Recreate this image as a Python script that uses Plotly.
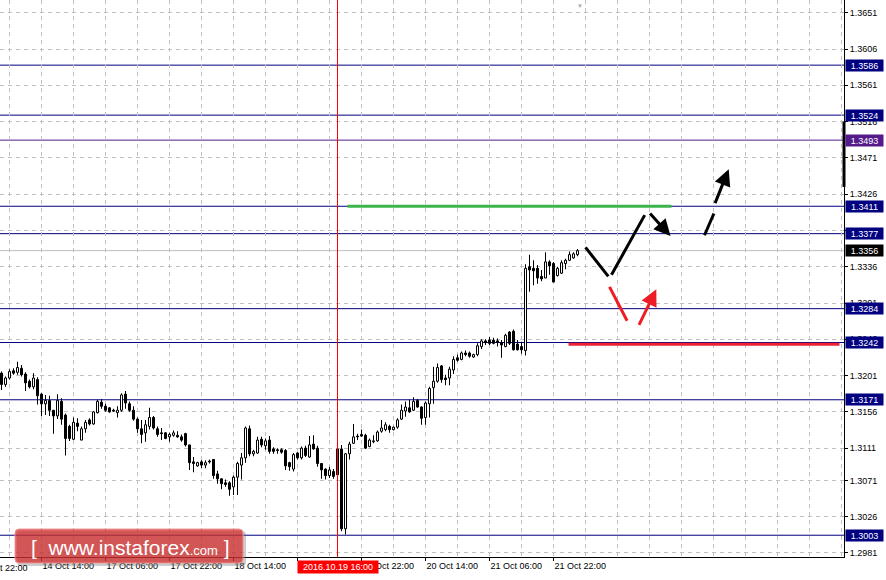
import plotly.graph_objects as go

# ---------------- data (H1 candles, bar index 0 = 14 Oct 14:00) ----------------
bar_start = -10
opens = [1.3204, 1.3190, 1.3198, 1.3207, 1.3205, 1.3210, 1.3203, 1.3194, 1.3187, 1.3196,
         1.3178, 1.3166, 1.3170, 1.3158, 1.3151, 1.3169, 1.3152, 1.3138, 1.3122, 1.3142,
         1.3121, 1.3135, 1.3146, 1.3141, 1.3155, 1.3168, 1.3163, 1.3161, 1.3158, 1.3155,
         1.3158, 1.3178, 1.3166, 1.3158, 1.3147, 1.3135, 1.3130, 1.3138, 1.3149, 1.3135,
         1.3130, 1.3130, 1.3125, 1.3127, 1.3127, 1.3125, 1.3129, 1.3115, 1.3094, 1.3089,
         1.3094, 1.3090, 1.3095, 1.3097, 1.3079, 1.3073, 1.3068, 1.3068, 1.3063, 1.3075,
         1.3090, 1.3099, 1.3135, 1.3104, 1.3105, 1.3122, 1.3114, 1.3121, 1.3110, 1.3109,
         1.3109, 1.3108, 1.3093, 1.3085, 1.3105, 1.3099, 1.3111, 1.3100, 1.3116, 1.3111,
         1.3092, 1.3085, 1.3077, 1.3082, 1.3110, 1.3110, 1.3011, 1.3104, 1.3117, 1.3126,
         1.3128, 1.3127, 1.3113, 1.3119, 1.3120, 1.3132, 1.3134, 1.3138, 1.3134, 1.3137,
         1.3147, 1.3157, 1.3161, 1.3158, 1.3170, 1.3162, 1.3149, 1.3166, 1.3186, 1.3194,
         1.3213, 1.3198, 1.3198, 1.3208, 1.3223, 1.3221, 1.3229, 1.3229, 1.3224, 1.3227,
         1.3237, 1.3244, 1.3245, 1.3245, 1.3244, 1.3242, 1.3237, 1.3255, 1.3256, 1.3240,
         1.3237, 1.3232, 1.3336, 1.3334, 1.3334, 1.3324, 1.3322, 1.3342, 1.3340, 1.3325,
         1.3328, 1.3340, 1.3344, 1.3347, 1.3351]
highs = [1.3206, 1.3200, 1.3209, 1.3210, 1.3218, 1.3214, 1.3205, 1.3196, 1.3204, 1.3199,
         1.3179, 1.3177, 1.3176, 1.3158, 1.3178, 1.3173, 1.3154, 1.3140, 1.3149, 1.3148,
         1.3138, 1.3146, 1.3148, 1.3157, 1.3171, 1.3172, 1.3166, 1.3162, 1.3160, 1.3163,
         1.3179, 1.3182, 1.3169, 1.3163, 1.3149, 1.3146, 1.3146, 1.3161, 1.3151, 1.3138,
         1.3136, 1.3131, 1.3130, 1.3133, 1.3132, 1.3128, 1.3130, 1.3115, 1.3100, 1.3094,
         1.3096, 1.3096, 1.3097, 1.3097, 1.3083, 1.3073, 1.3072, 1.3070, 1.3077, 1.3094,
         1.3105, 1.3138, 1.3139, 1.3109, 1.3125, 1.3125, 1.3123, 1.3126, 1.3112, 1.3111,
         1.3111, 1.3110, 1.3094, 1.3105, 1.3106, 1.3113, 1.3114, 1.3126, 1.3127, 1.3114,
         1.3092, 1.3086, 1.3088, 1.3085, 1.3113, 1.3115, 1.3105, 1.3119, 1.3141, 1.3129,
         1.3134, 1.3129, 1.3123, 1.3127, 1.3133, 1.3146, 1.3143, 1.3140, 1.3138, 1.3148,
         1.3165, 1.3169, 1.3171, 1.3174, 1.3172, 1.3163, 1.3169, 1.3187, 1.3212, 1.3216,
         1.3214, 1.3202, 1.3212, 1.3225, 1.3227, 1.3231, 1.3232, 1.3231, 1.3228, 1.3241,
         1.3246, 1.3246, 1.3249, 1.3248, 1.3247, 1.3245, 1.3253, 1.3256, 1.3258, 1.3245,
         1.3243, 1.3339, 1.3351, 1.3344, 1.3338, 1.3332, 1.3354, 1.3344, 1.3342, 1.3336,
         1.3344, 1.3346, 1.3355, 1.3354, 1.3358]
lows = [1.3183, 1.3187, 1.3196, 1.3202, 1.3202, 1.3200, 1.3182, 1.3185, 1.3184, 1.3165,
        1.3151, 1.3152, 1.3151, 1.3129, 1.3147, 1.3140, 1.3102, 1.3120, 1.3121, 1.3132,
        1.3121, 1.3130, 1.3139, 1.3140, 1.3154, 1.3160, 1.3156, 1.3155, 1.3156, 1.3149,
        1.3156, 1.3160, 1.3156, 1.3145, 1.3130, 1.3117, 1.3119, 1.3134, 1.3134, 1.3125,
        1.3121, 1.3122, 1.3119, 1.3125, 1.3124, 1.3119, 1.3113, 1.3084, 1.3081, 1.3088,
        1.3086, 1.3086, 1.3092, 1.3073, 1.3067, 1.3060, 1.3063, 1.3052, 1.3053, 1.3053,
        1.3072, 1.3093, 1.3101, 1.3101, 1.3104, 1.3112, 1.3109, 1.3104, 1.3104, 1.3104,
        1.3104, 1.3084, 1.3083, 1.3082, 1.3097, 1.3097, 1.3100, 1.3099, 1.3109, 1.3088,
        1.3073, 1.3072, 1.3074, 1.3073, 1.3077, 1.3008, 1.3004, 1.3097, 1.3116, 1.3121,
        1.3125, 1.3110, 1.3112, 1.3117, 1.3119, 1.3130, 1.3132, 1.3130, 1.3133, 1.3135,
        1.3146, 1.3150, 1.3155, 1.3157, 1.3161, 1.3140, 1.3140, 1.3149, 1.3166, 1.3192,
        1.3192, 1.3189, 1.3189, 1.3203, 1.3218, 1.3220, 1.3225, 1.3223, 1.3223, 1.3225,
        1.3234, 1.3239, 1.3239, 1.3240, 1.3237, 1.3223, 1.3236, 1.3239, 1.3232, 1.3232,
        1.3228, 1.3226, 1.3305, 1.3313, 1.3315, 1.3318, 1.3322, 1.3326, 1.3317, 1.3324,
        1.3327, 1.3333, 1.3343, 1.3346, 1.3349]
closes = [1.3190, 1.3198, 1.3206, 1.3204, 1.3211, 1.3202, 1.3192, 1.3187, 1.3198, 1.3176,
          1.3166, 1.3170, 1.3158, 1.3151, 1.3170, 1.3147, 1.3123, 1.3123, 1.3143, 1.3138,
          1.3135, 1.3143, 1.3141, 1.3156, 1.3169, 1.3163, 1.3158, 1.3156, 1.3157, 1.3158,
          1.3177, 1.3167, 1.3158, 1.3147, 1.3135, 1.3128, 1.3140, 1.3149, 1.3136, 1.3128,
          1.3129, 1.3123, 1.3128, 1.3130, 1.3125, 1.3121, 1.3115, 1.3093, 1.3092, 1.3093,
          1.3090, 1.3093, 1.3094, 1.3077, 1.3073, 1.3067, 1.3066, 1.3060, 1.3075, 1.3092,
          1.3099, 1.3136, 1.3104, 1.3107, 1.3121, 1.3115, 1.3120, 1.3107, 1.3107, 1.3108,
          1.3106, 1.3089, 1.3088, 1.3103, 1.3099, 1.3111, 1.3102, 1.3115, 1.3110, 1.3092,
          1.3084, 1.3077, 1.3084, 1.3076, 1.3078, 1.3011, 1.3104, 1.3116, 1.3125, 1.3125,
          1.3126, 1.3111, 1.3121, 1.3120, 1.3131, 1.3136, 1.3140, 1.3134, 1.3137, 1.3146,
          1.3158, 1.3162, 1.3156, 1.3169, 1.3162, 1.3148, 1.3167, 1.3185, 1.3194, 1.3211,
          1.3196, 1.3196, 1.3209, 1.3221, 1.3220, 1.3229, 1.3227, 1.3225, 1.3227, 1.3238,
          1.3244, 1.3242, 1.3241, 1.3241, 1.3242, 1.3239, 1.3251, 1.3241, 1.3233, 1.3233,
          1.3233, 1.3334, 1.3332, 1.3331, 1.3322, 1.3321, 1.3342, 1.3337, 1.3317, 1.3334,
          1.3341, 1.3344, 1.3351, 1.3352, 1.3356]

x_tick_pos = [0, 16, 32, 48, 64, 80, 96, 112, 128]
x_tick_text = ["14 Oct 14:00", "17 Oct 06:00", "17 Oct 22:00", "18 Oct 14:00", "19 Oct 06:00",
               "19 Oct 22:00", "20 Oct 14:00", "21 Oct 06:00", "21 Oct 22:00"]
cut_label_pos = -16
cut_label_text = "13 Oct 22:00"

y_ticks = [1.3651, 1.3606, 1.3561, 1.3516, 1.3471, 1.3426, 1.3381, 1.3336, 1.3291,
           1.3246, 1.3201, 1.3156, 1.3111, 1.3071, 1.3026, 1.2981]

levels = [1.3586, 1.3524, 1.3493, 1.3411, 1.3377, 1.3284, 1.3242, 1.3171, 1.3003]
level_colors = ["#000080", "#000080", "#551a8b", "#000080", "#000080", "#000080",
                "#000080", "#000080", "#000080"]
bid_price = 1.3356

marker_bar = 74
marker_text = "2016.10.19 16:00"

green_zone = [76.5, 157.5, 1.3411]
red_zone = [131.75, 199.5, 1.3240]

# forecast path: (x0, y0, x1, y1)
black_lines = [[136.0, 1.3360, 141.7, 1.3324], [142.5, 1.3326, 150.8, 1.3400]]
black_arrows = [[151.8, 1.3404, 157.25, 1.3374]]
black_dashes = [[165.75, 1.3375, 168.1, 1.3402]]
black_dash_arrows = [[168.25, 1.3413, 171.8, 1.3457]]
red_lines = [[142.0, 1.3311, 146.4, 1.3269]]
red_arrows = [[149.2, 1.3262, 153.7, 1.3308]]

# ---------------- figure ----------------
bars = list(range(bar_start, bar_start + len(opens)))
FONT = "Liberation Sans, Arial, sans-serif"
PW, PH = 844, 557  # plot area size in px

fig = go.Figure()
fig.add_trace(go.Bar(
    x=bars, base=lows, y=[h - l for h, l in zip(highs, lows)], width=0.25,
    marker=dict(color="black", line=dict(width=0)), hoverinfo="skip"))
fig.add_trace(go.Bar(
    x=bars, base=[min(o, c) for o, c in zip(opens, closes)],
    y=[max(abs(c - o), 0.00002) for o, c in zip(opens, closes)], width=0.5,
    marker=dict(color=["white" if c >= o else "black" for o, c in zip(opens, closes)],
                line=dict(color="black", width=1)), hoverinfo="skip"))

shapes = []
for lv, col in zip(levels, level_colors):
    shapes.append(dict(type="line", xref="paper", x0=0, x1=1, yref="y", y0=lv, y1=lv,
                       line=dict(color=col, width=1), layer="between"))
shapes.append(dict(type="line", xref="paper", x0=0, x1=1, yref="y", y0=bid_price, y1=bid_price,
                   line=dict(color="#c0c0c0", width=1), layer="between"))
shapes.append(dict(type="line", xref="x", x0=marker_bar, x1=marker_bar, yref="paper", y0=0, y1=1,
                   line=dict(color="#ff0000", width=1), layer="above"))
shapes.append(dict(type="line", xref="x", x0=green_zone[0], x1=green_zone[1], yref="y",
                   y0=green_zone[2], y1=green_zone[2], line=dict(color="#3cb44b", width=3)))
shapes.append(dict(type="line", xref="x", x0=red_zone[0], x1=red_zone[1], yref="y",
                   y0=red_zone[2], y1=red_zone[2], line=dict(color="#ee2233", width=3)))
for seg in black_lines + black_dashes:
    shapes.append(dict(type="line", xref="x", yref="y", x0=seg[0], y0=seg[1], x1=seg[2], y1=seg[3],
                       line=dict(color="black", width=3)))
for seg in red_lines:
    shapes.append(dict(type="line", xref="x", yref="y", x0=seg[0], y0=seg[1], x1=seg[2], y1=seg[3],
                       line=dict(color="#ee1c24", width=3)))
# scroll marker on the price scale
shapes.append(dict(type="line", xref="paper", x0=1, x1=1, yref="y", y0=1.3435, y1=1.3516,
                   line=dict(color="black", width=3)))


def rounded_rect(x0, y0, x1, y1, r):
    """SVG path (paper coords) for a rectangle given in px with rounded corners."""
    def px(v):
        return v / PW

    def py(v):
        return 1 - v / PH
    return (f"M {px(x0 + r)},{py(y0)} L {px(x1 - r)},{py(y0)} Q {px(x1)},{py(y0)} {px(x1)},{py(y0 + r)} "
            f"L {px(x1)},{py(y1 - r)} Q {px(x1)},{py(y1)} {px(x1 - r)},{py(y1)} "
            f"L {px(x0 + r)},{py(y1)} Q {px(x0)},{py(y1)} {px(x0)},{py(y1 - r)} "
            f"L {px(x0)},{py(y0 + r)} Q {px(x0)},{py(y0)} {px(x0 + r)},{py(y0)} Z")


# logo box (shadow + box)
shapes.append(dict(type="path", xref="paper", yref="paper", path=rounded_rect(17, 531, 246, 566, 4),
                   line=dict(width=0), fillcolor="rgba(110,110,110,0.35)"))
shapes.append(dict(type="path", xref="paper", yref="paper", path=rounded_rect(15, 529, 243, 563, 4),
                   line=dict(color="rgba(240,150,150,0.9)", width=1),
                   fillcolor="rgba(214,40,40,0.72)"))

annotations = []
for lv, col in zip(levels, level_colors):
    annotations.append(dict(xref="paper", x=1, xanchor="left", xshift=1, yref="y", y=lv,
                            text=f"{lv:.4f}", showarrow=False, bgcolor=col, width=37, height=11,
                            borderpad=0, font=dict(family=FONT, size=9, color="white")))
annotations.append(dict(xref="paper", x=1, xanchor="left", xshift=1, yref="y", y=bid_price,
                        text=f"{bid_price:.4f}", showarrow=False, bgcolor="black", width=37,
                        height=11, borderpad=0, font=dict(family=FONT, size=9, color="white")))
annotations.append(dict(xref="x", x=marker_bar, yref="paper", y=0, yanchor="top", yshift=-3,
                        text=marker_text, showarrow=False, bgcolor="#ff0000", width=80, height=12,
                        borderpad=0, font=dict(family=FONT, size=9, color="white")))
annotations.append(dict(xref="paper", x=(41 + 4 * cut_label_pos) / PW, xanchor="left", xshift=-3,
                        yref="paper", y=0, yanchor="top", yshift=-4, text=cut_label_text,
                        showarrow=False, font=dict(family=FONT, size=9, color="black")))
for a in black_arrows + black_dash_arrows:
    annotations.append(dict(xref="x", yref="y", axref="x", ayref="y", x=a[2], y=a[3], ax=a[0], ay=a[1],
                            text="", showarrow=True, arrowhead=2, arrowsize=1.1, arrowwidth=3,
                            arrowcolor="black", standoff=0))
for a in red_arrows:
    annotations.append(dict(xref="x", yref="y", axref="x", ayref="y", x=a[2], y=a[3], ax=a[0], ay=a[1],
                            text="", showarrow=True, arrowhead=2, arrowsize=1.1, arrowwidth=3,
                            arrowcolor="#ee1c24", standoff=0))
annotations.append(dict(xref="x", x=134.6, yref="paper", y=1, yanchor="top", text="▼",
                        showarrow=False, font=dict(size=6, color="#a8a8a8")))
annotations.append(dict(xref="paper", x=130 / PW, xanchor="center", yref="paper", y=1 - 547 / PH,
                        yanchor="middle",
                        text="[  www.instaforex<span style='font-size:13px'>.com</span> ]",
                        showarrow=False, font=dict(family=FONT, size=21, color="white")))

grid_col = "#c0c0c0"
fig.update_layout(
    width=886, height=580, margin=dict(l=0, r=42, t=0, b=23, autoexpand=False),
    paper_bgcolor="white", plot_bgcolor="white", showlegend=False, barmode="overlay",
    shapes=shapes, annotations=annotations,
    xaxis=dict(range=[bar_start - 0.375, 200.625], tickmode="array", tickvals=x_tick_pos,
               ticktext=x_tick_text, ticks="outside", ticklen=3, tickcolor="black",
               ticklabelposition="outside right", showgrid=True, gridcolor=grid_col,
               griddash="4px,4px", gridwidth=1,
               minor=dict(tickmode="linear", tick0=0, dtick=8, showgrid=True,
                          gridcolor=grid_col, griddash="4px,4px", gridwidth=1, ticks=""),
               showline=True, linecolor="black", linewidth=1, zeroline=False,
               tickfont=dict(family=FONT, size=9, color="black"), fixedrange=True,
               automargin=False),
    yaxis=dict(side="right", range=[1.2976, 1.36668], tickmode="array", tickvals=y_ticks,
               ticktext=[f"{v:.4f}" for v in y_ticks], ticks="outside", ticklen=3,
               tickcolor="black", showgrid=True, gridcolor=grid_col, griddash="4px,4px",
               gridwidth=1, showline=True, linecolor="black", linewidth=1, zeroline=False,
               tickfont=dict(family=FONT, size=9, color="black"), fixedrange=True,
               automargin=False),
)

fig.write_html("out.html", config={"displayModeBar": False},
               post_script="document.body.style.margin='0';document.body.style.padding='0';"
                           "document.body.style.overflow='hidden';")
